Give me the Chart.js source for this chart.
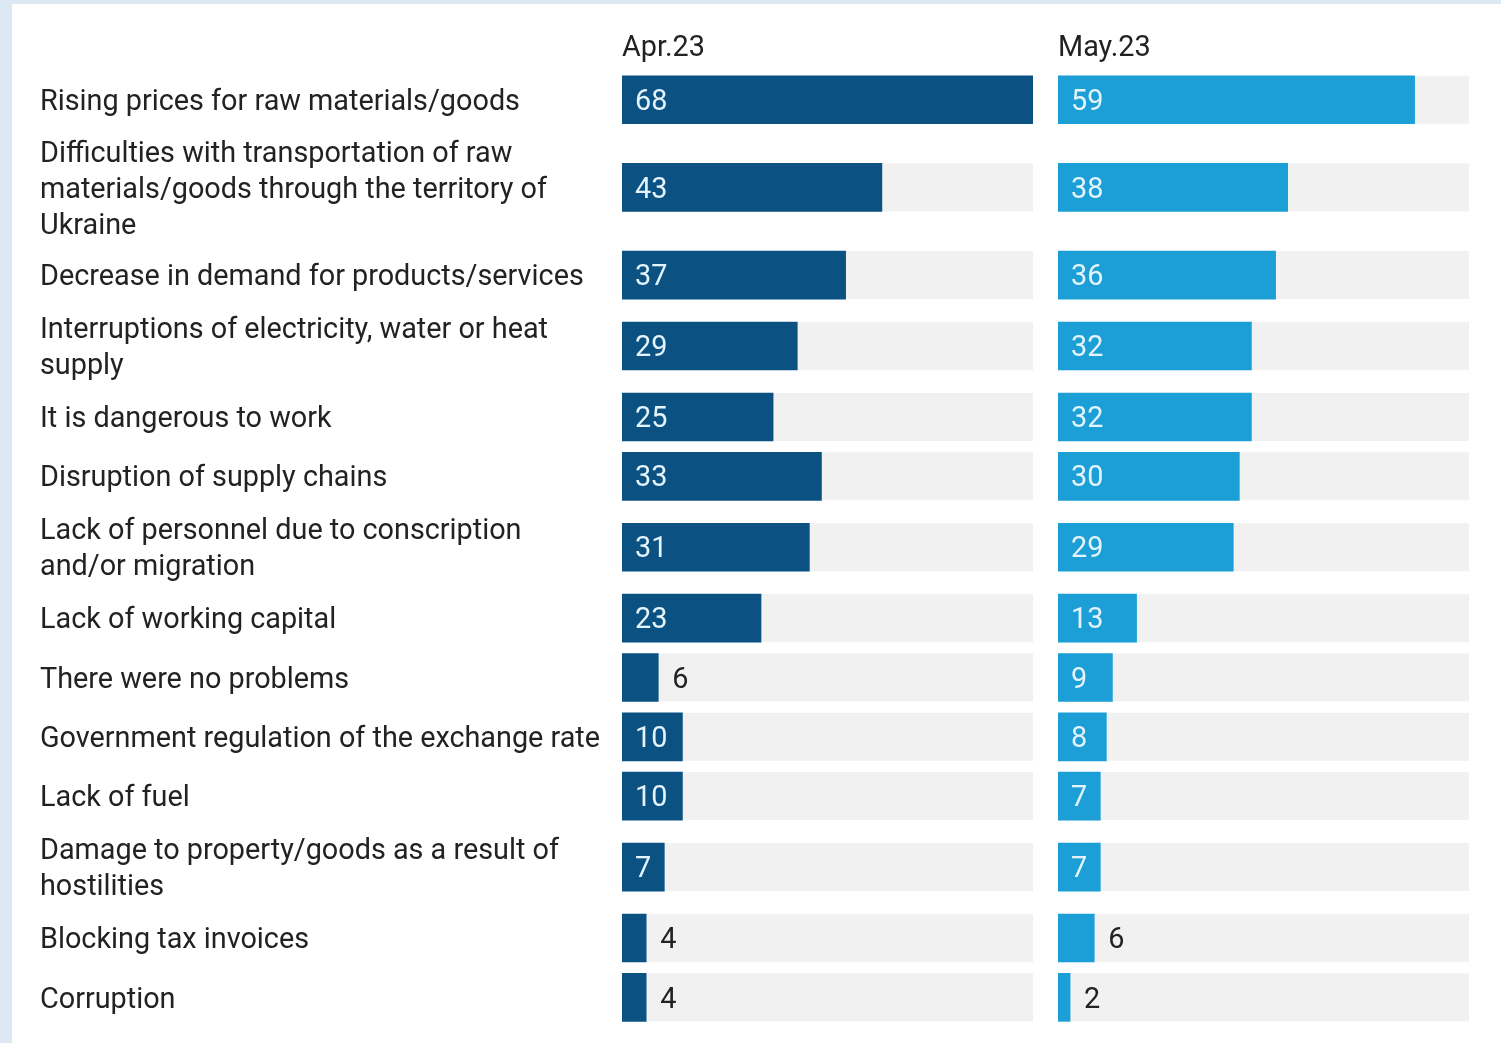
<!DOCTYPE html>
<html>
<head>
<meta charset="utf-8">
<script src="https://cdn.jsdelivr.net/npm/chart.js@4"></script>
<style>
  html, body { margin: 0; padding: 0; }
  body { width: 1501px; height: 1043px; background: #dce8f4; position: relative; overflow: hidden; }
  #panel { position: absolute; left: 12px; top: 4px; right: 0; bottom: 0; background: #ffffff; }
  canvas { position: absolute; left: 0; top: 0; }
</style>
</head>
<body>
<div id="panel"></div>
<canvas id="cA" width="1501" height="1043"></canvas>
<canvas id="cB" width="1501" height="1043"></canvas>
<script>
// ---- data ----
const categories = [
  ["Rising prices for raw materials/goods"],
  ["Difficulties with transportation of raw", "materials/goods through the territory of", "Ukraine"],
  ["Decrease in demand for products/services"],
  ["Interruptions of electricity, water or heat", "supply"],
  ["It is dangerous to work"],
  ["Disruption of supply chains"],
  ["Lack of personnel due to conscription", "and/or migration"],
  ["Lack of working capital"],
  ["There were no problems"],
  ["Government regulation of the exchange rate"],
  ["Lack of fuel"],
  ["Damage to property/goods as a result of", "hostilities"],
  ["Blocking tax invoices"],
  ["Corruption"]
];
const periods = ["Apr.23", "May.23"];
const apr23 = [68, 43, 37, 29, 25, 33, 31, 23, 6, 10, 10, 7, 4, 4];
const may23 = [59, 38, 36, 32, 32, 30, 29, 13, 9, 8, 7, 7, 6, 2];

// ---- layout helpers (row slot height depends on label line count) ----
const SLOT = {1: 59.3, 2: 82.5, 3: 116};
const rowH = categories.map(l => SLOT[l.length]);
const rowPos = [];
let acc = 0;
rowH.forEach((h) => { rowPos.push(acc + h / 2); acc += h; });
const total = acc;

const FONT = "Roboto";
const FSIZE = 28.8;
const DARK = "#0b5283";
const LIGHT = "#1b9fd6";
const TRACK = "#f1f1f1";
const XMAX = 68;

const trackPlugin = {
  id: 'track',
  beforeDatasetsDraw(chart) {
    const {ctx} = chart;
    const xs = chart.scales.x, ys = chart.scales.y;
    ctx.save();
    ctx.fillStyle = TRACK;
    const x0 = xs.getPixelForValue(0), x1 = xs.getPixelForValue(XMAX);
    rowPos.forEach(p => {
      const y = ys.getPixelForValue(p);
      ctx.fillRect(x0, y - 24, x1 - x0, 48);
    });
    ctx.restore();
  }
};

const valuePlugin = {
  id: 'values',
  afterDatasetsDraw(chart) {
    const {ctx} = chart;
    ctx.save();
    ctx.font = FSIZE + "px " + FONT;
    ctx.textBaseline = "middle";
    ctx.textAlign = "left";
    chart.data.datasets.forEach((ds, di) => {
      const meta = chart.getDatasetMeta(di);
      meta.data.forEach((el, i) => {
        const v = ds.data[i].x;
        const w = el.x - el.base;
        if (w >= 40) {
          ctx.fillStyle = "#e4f4fc";
          ctx.fillText(String(v), el.base + 13, el.y + 3);
        } else {
          ctx.fillStyle = "#222222";
          ctx.fillText(String(v), el.x + 14, el.y + 3);
        }
      });
    });
    ctx.restore();
  }
};

function makeChart(id, values, color, title, showLabels, padL, padR) {
  return new Chart(document.getElementById(id), {
    type: 'bar',
    data: {
      datasets: [{
        data: values.map((v, i) => ({x: v, y: rowPos[i]})),
        backgroundColor: color,
        borderWidth: 0,
        barThickness: 48
      }]
    },
    options: {
      indexAxis: 'y',
      responsive: false,
      animation: false,
      layout: { padding: { left: padL, right: padR, top: 32, bottom: 16 } },
      plugins: { legend: { display: false }, tooltip: { enabled: false } },
      scales: {
        x: {
          type: 'linear',
          position: 'top',
          min: 0, max: XMAX,
          grid: { display: false, drawTicks: false },
          border: { display: false },
          ticks: { display: false },
          title: {
            display: true, text: title, align: 'start',
            color: '#222222',
            font: { family: FONT, size: FSIZE, lineHeight: 1.2 },
            padding: { top: 0, bottom: 3.5 }
          }
        },
        y: {
          type: 'linear',
          display: showLabels,
          offset: false,
          reverse: true,
          min: 0, max: total,
          grid: { display: false, drawTicks: false },
          border: { display: false },
          afterBuildTicks(scale) { scale.ticks = rowPos.map(v => ({ value: v })); },
          afterFit(scale) {
            if (showLabels) scale.width = 582;
            scale.paddingTop = 0;
            scale.paddingBottom = 0;
          },
          ticks: {
            autoSkip: false,
            crossAlign: 'far',
            padding: 0,
            labelOffset: 3,
            color: '#222222',
            font: { family: FONT, size: FSIZE, lineHeight: 1.25 },
            callback: (v, i) => categories[i]
          }
        }
      }
    },
    plugins: [trackPlugin, valuePlugin]
  });
}

makeChart('cA', apr23, DARK, periods[0], true, 40, 1501 - 1033);
makeChart('cB', may23, LIGHT, periods[1], false, 1058, 1501 - 1469);
</script>
</body>
</html>
